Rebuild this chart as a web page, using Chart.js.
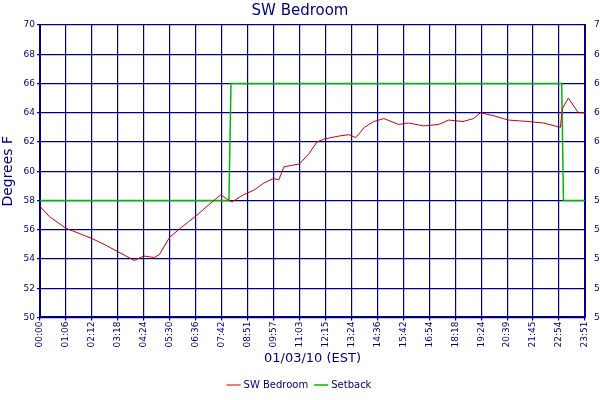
<!DOCTYPE html><html><head><script src="https://cdn.jsdelivr.net/npm/chart.js@4"></script>
<style>body{margin:0;background:#fff}#w{width:600px;height:400px}</style></head><body><div id="w"><canvas id="c"></canvas></div><script>
const tickLabels=["00:00","01:06","02:12","03:18","04:24","05:30","06:36","07:42","08:51","09:57","11:03","12:15","13:24","14:36","15:42","16:54","18:18","19:24","20:39","21:45","22:54","23:51"];
const tempX=[0,0.36,1.0,2.0,2.47,3.0,3.63,4.0,4.4,4.6,5.0,5.55,6.05,6.5,6.97,7.2,7.4,7.85,8.24,8.63,9.0,9.2,9.4,10.0,10.36,10.67,10.94,11.5,11.9,12.17,12.5,12.86,13.25,13.82,14.2,14.78,15.36,15.75,16.3,16.7,16.97,17.47,18.05,18.8,19.4,20.05,20.13,20.36,20.74,20.94,21];
const tempY=[57.6,56.9,56.1,55.4,55.0,54.5,53.9,54.2,54.1,54.3,55.5,56.3,57.0,57.7,58.4,58.1,57.9,58.4,58.7,59.2,59.5,59.4,60.3,60.5,61.2,62.0,62.2,62.4,62.5,62.3,63.0,63.4,63.6,63.2,63.3,63.1,63.2,63.5,63.4,63.6,64.0,63.8,63.5,63.4,63.3,63.0,64.3,65.0,64.0,64.0,64.0];
const setX=[0,7.28,7.36,20.1,20.17,21];
const setY=[58,58,66,66,58,58];
const navy='#000080';
const F='DejaVu Sans';
new Chart(document.getElementById('c'),{type:'line',data:{datasets:[
{label:'SW Bedroom',data:tempX.map((x,i)=>({x,y:tempY[i]})),borderColor:'#cc0000',borderWidth:1,pointRadius:0,tension:0},
{label:'Setback',data:setX.map((x,i)=>({x,y:setY[i]})),borderColor:'#00bb00',borderWidth:1.5,pointRadius:0,tension:0}]},
options:{animation:false,responsive:true,maintainAspectRatio:false,layout:{padding:{top:0,right:0,bottom:0,left:0}},
plugins:{title:{display:true,text:'SW Bedroom',color:navy,font:{family:F,size:15,weight:'normal'},padding:{top:2,bottom:5}},
legend:{position:'bottom',labels:{usePointStyle:true,pointStyle:'line',color:navy,font:{family:F,size:10},boxWidth:14,padding:8}},tooltip:{enabled:false}},
scales:{x:{type:'linear',min:0,max:21,afterBuildTicks:a=>{a.ticks=tickLabels.map((_,i)=>({value:i}));},
ticks:{callback:(v)=>tickLabels[v],color:navy,font:{family:F,size:9},maxRotation:90,minRotation:90,autoSkip:false,padding:1},
grid:{color:navy,lineWidth:1.2,tickLength:3},border:{color:navy,width:2},
title:{display:true,text:'01/03/10 (EST)',color:navy,font:{family:F,size:13},padding:{top:2,bottom:6}}},
y:{min:50,max:70,ticks:{stepSize:2,color:navy,font:{family:F,size:9},padding:2},grid:{color:navy,lineWidth:1.2,tickLength:3},border:{color:navy,width:2},
title:{display:true,text:'Degrees F',color:navy,font:{family:F,size:14},padding:{top:0,bottom:2}},afterFit:s=>{s.width=40;}},
y2:{position:'right',min:50,max:70,ticks:{stepSize:2,color:navy,font:{family:F,size:9},padding:1},grid:{display:false},border:{color:navy,width:2},afterFit:s=>{s.width=15;}}}}});
</script></body></html>
